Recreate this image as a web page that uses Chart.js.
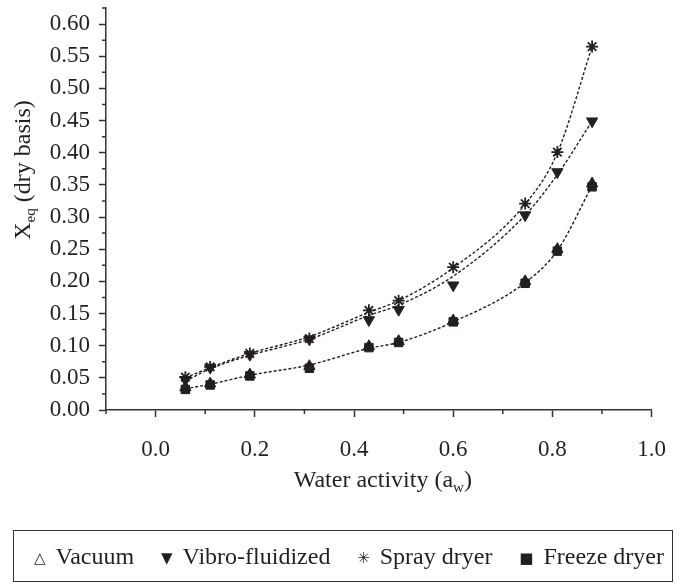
<!DOCTYPE html>
<html>
<head>
<meta charset="utf-8">
<title>Sorption isotherms</title>
<script src="https://cdn.jsdelivr.net/npm/chart.js@4"></script>
<style>
  body { margin: 0; background: #fff; }
  .wrap { position: relative; width: 685px; height: 583px; }
  .legend { position: absolute; left: 13px; top: 530px; width: 660px; height: 52px; box-sizing: border-box;
    border: 1.5px solid #333; display: flex; align-items: center; justify-content: space-between;
    padding: 0 8px 0 20px;
    font-family: 'Liberation Serif', serif; font-size: 24px; color: #231f20; }
  .legend .sym { font-family: 'DejaVu Sans', sans-serif; font-size: 15px; margin-right: 10px; position: relative; top: -1px; }
</style>
</head>
<body>
<div class="wrap">
  <canvas id="c" width="685" height="583"></canvas>
  <div class="legend">
    <span><span class="sym">△</span>Vacuum</span>
    <span><span class="sym">▼</span>Vibro-fluidized</span>
    <span><span class="sym">✳</span>Spray dryer</span>
    <span><span class="sym">■</span>Freeze dryer</span>
  </div>
</div>
<script>
const aw = [0.06, 0.11, 0.19, 0.31, 0.43, 0.49, 0.60, 0.745, 0.81, 0.88];
const vacuum = [0.035, 0.041, 0.055, 0.068, 0.099, 0.107, 0.139, 0.200, 0.250, 0.352];
const vibro = [0.047, 0.066, 0.086, 0.110, 0.140, 0.156, 0.194, 0.303, 0.370, 0.449];
const spray = [0.051, 0.067, 0.088, 0.111, 0.155, 0.170, 0.222, 0.321, 0.401, 0.565];
const freeze = [0.032, 0.039, 0.053, 0.065, 0.097, 0.105, 0.137, 0.197, 0.247, 0.347];

// fitted curves
const fitSpray = [0.050, 0.066, 0.088, 0.114, 0.152, 0.170, 0.221, 0.320, 0.400, 0.565];
const fitVibro = [0.045, 0.064, 0.085, 0.110, 0.147, 0.163, 0.208, 0.303, 0.366, 0.449];
const fitLow = [0.033, 0.040, 0.054, 0.070, 0.096, 0.105, 0.137, 0.198, 0.248, 0.349];

const INK = '#231f20';
const AXIS = '#333';
const pts = ys => ys.map((y, i) => ({ x: aw[i], y }));

const fit = ys => ({
  data: pts(ys), showLine: true, pointRadius: 0, borderColor: INK, borderWidth: 1.4,
  borderDash: [3, 2], cubicInterpolationMode: 'monotone', fill: false
});
const marks = (ys, style, r, extra) => Object.assign({
  data: pts(ys), showLine: false, pointStyle: style, pointRadius: r, pointHoverRadius: r,
  backgroundColor: INK, borderColor: INK, pointBorderWidth: 1
}, extra || {});

const isMajorY = v => Math.round(v * 1000) % 50 === 0;
const isMajorX = v => Math.round(v * 10) % 2 === 0;

const extras = {
  id: 'extras',
  afterDraw(chart) {
    const { ctx, chartArea, scales: { x, y } } = chart;
    ctx.save();
    ctx.strokeStyle = AXIS;
    ctx.lineWidth = 1.5;
    ctx.beginPath();
    y.ticks.forEach(t => {
      if (isMajorY(t.value)) return;
      const p = y.getPixelForValue(t.value);
      ctx.moveTo(chartArea.left, p); ctx.lineTo(chartArea.left - 4, p);
    });
    x.ticks.forEach(t => {
      if (isMajorX(t.value)) return;
      const p = x.getPixelForValue(t.value);
      ctx.moveTo(p, chartArea.bottom); ctx.lineTo(p, chartArea.bottom + 4);
    });
    ctx.stroke();

    ctx.fillStyle = INK;
    ctx.textBaseline = 'alphabetic';
    const big = '24px "Liberation Serif", serif';
    const small = '15px "Liberation Serif", serif';
    const parts = (list) => list.map(([s, f, dy]) => { ctx.font = f; return { s, f, dy, w: ctx.measureText(s).width }; });

    // x title
    let xt = parts([['Water activity (a', big, 0], ['w', small, 5], [')', big, 0]]);
    let tw = xt.reduce((a, p) => a + p.w, 0);
    let cx = (chartArea.left + chartArea.right) / 2 + 4 - tw / 2;
    xt.forEach(p => { ctx.font = p.f; ctx.fillText(p.s, cx, 487 + p.dy); cx += p.w; });

    // y title
    ctx.translate(30, 170);
    ctx.rotate(-Math.PI / 2);
    let yt = parts([['X', big, 0], ['eq', small, 5], [' (dry basis)', big, 0]]);
    tw = yt.reduce((a, p) => a + p.w, 0);
    let cy = -tw / 2;
    yt.forEach(p => { ctx.font = p.f; ctx.fillText(p.s, cy, p.dy); cy += p.w; });
    ctx.restore();
  }
};

new Chart(document.getElementById('c'), {
  type: 'scatter',
  data: {
    datasets: [
      fit(fitLow), fit(fitVibro), fit(fitSpray),
      marks(vacuum, 'triangle', 6.5),
      marks(freeze, 'rect', 6),
      marks(vibro, 'triangle', 6.5, { rotation: 180 }),
      marks(spray, 'star', 6, { pointBorderWidth: 1.8 })
    ]
  },
  options: {
    responsive: false,
    animation: false,
    layout: { padding: { top: 8, right: 32, left: 0, bottom: 113 } },
    plugins: { legend: { display: false }, tooltip: { enabled: false } },
    scales: {
      x: {
        type: 'linear', min: -0.1, max: 1.0,
        afterFit: s => { s.height = 60; },
        border: { display: true, color: AXIS, width: 1.5 },
        grid: { drawOnChartArea: false, tickLength: 7, tickWidth: 1.5,
          tickColor: c => isMajorX(c.tick.value) ? AXIS : 'rgba(0,0,0,0)' },
        ticks: { stepSize: 0.1, autoSkip: false, maxRotation: 0, padding: 19, color: INK,
          font: { family: '"Liberation Serif", serif', size: 23 },
          callback: v => isMajorX(v) ? v.toFixed(1) : '' }
      },
      y: {
        min: 0, max: 0.625,
        afterFit: s => { s.width = 106; s.paddingTop = 0; s.paddingBottom = 0; },
        border: { display: true, color: AXIS, width: 1.5 },
        grid: { drawOnChartArea: false, tickLength: 7, tickWidth: 1.5,
          tickColor: c => isMajorY(c.tick.value) ? AXIS : 'rgba(0,0,0,0)' },
        ticks: { stepSize: 0.025, autoSkip: false, padding: 9, color: INK,
          font: { family: '"Liberation Serif", serif', size: 23 },
          callback: v => isMajorY(v) ? v.toFixed(2) : '' }
      }
    }
  },
  plugins: [extras]
});
</script>
</body>
</html>
